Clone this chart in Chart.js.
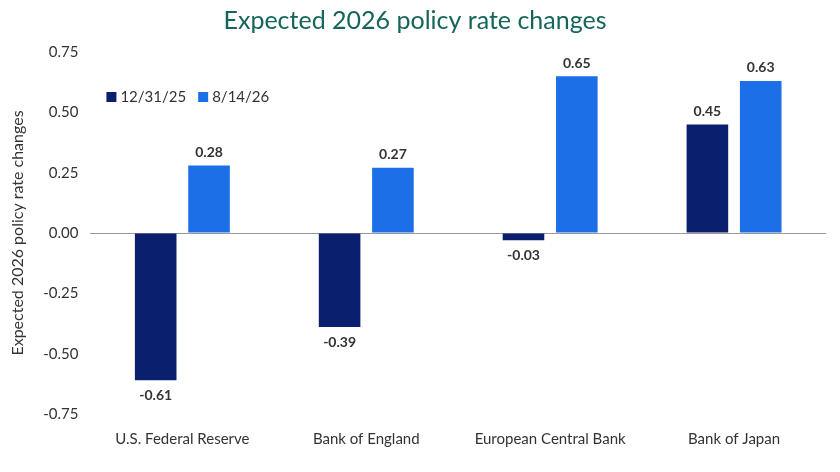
<!DOCTYPE html>
<html>
<head>
<meta charset="utf-8">
<script src="https://cdn.jsdelivr.net/npm/chart.js@4"></script>
<style>
  body { margin: 0; background: #fff; }
  #wrap { width: 840px; height: 472px; }
</style>
</head>
<body>
<div id="wrap"><canvas id="c"></canvas></div>
<script>
const categories = ["U.S. Federal Reserve", "Bank of England", "European Central Bank", "Bank of Japan"];
const seriesNames = ["12/31/25", "8/14/26"];
const dec2025 = [-0.61, -0.39, -0.03, 0.45];
const aug2026 = [0.28, 0.27, 0.65, 0.63];
const colors = ["#0a1f6e", "#1c6fe6"];

// подписи значений над/под столбцами
const valueLabels = {
  id: "valueLabels",
  afterDatasetsDraw(chart) {
    const ctx = chart.ctx;
    ctx.save();
    ctx.font = "bold 14px Lato";
    ctx.fillStyle = "#333";
    ctx.textAlign = "center";
    chart.data.datasets.forEach((ds, i) => {
      chart.getDatasetMeta(i).data.forEach((bar, j) => {
        const v = ds.data[j];
        if (v >= 0) {
          ctx.textBaseline = "bottom";
          ctx.fillText(v.toFixed(2), bar.x, bar.y - 6);
        } else {
          ctx.textBaseline = "top";
          ctx.fillText(v.toFixed(2), bar.x, bar.y + 8);
        }
      });
    });
    ctx.restore();
  }
};

// легенда внутри области графика
const insideLegend = {
  id: "insideLegend",
  afterDraw(chart) {
    const ctx = chart.ctx;
    const a = chart.chartArea;
    let x = a.left + 16;
    const y = a.top + 45;
    ctx.save();
    ctx.font = "15px Lato";
    ctx.textBaseline = "middle";
    seriesNames.forEach((name, i) => {
      ctx.fillStyle = colors[i];
      ctx.fillRect(x, y - 5, 10, 10);
      ctx.fillStyle = "#333";
      ctx.fillText(name, x + 14, y);
      x += 14 + ctx.measureText(name).width + 12;
    });
    ctx.restore();
  }
};

new Chart(document.getElementById("c"), {
  type: "bar",
  data: {
    labels: categories,
    datasets: [
      { label: seriesNames[0], data: dec2025, backgroundColor: colors[0] },
      { label: seriesNames[1], data: aug2026, backgroundColor: colors[1] }
    ]
  },
  options: {
    responsive: true,
    maintainAspectRatio: false,
    animation: false,
    layout: { padding: { left: 4, right: 14, top: 0, bottom: 16 } },
    datasets: { bar: { categoryPercentage: 0.58, barPercentage: 0.78 } },
    plugins: {
      legend: { display: false },
      tooltip: { enabled: false },
      title: {
        display: true,
        text: "Expected 2026 policy rate changes",
        color: "#15655a",
        font: { family: "Lato", size: 25, weight: "normal" },
        padding: { top: 6, bottom: 16 }
      }
    },
    scales: {
      x: {
        grid: { display: false },
        border: { display: false },
        ticks: { color: "#333", font: { family: "Lato", size: 15 }, padding: 8 }
      },
      y: {
        min: -0.75,
        max: 0.75,
        grid: {
          drawTicks: false,
          color: (c) => (c.tick && c.tick.value === 0 ? "#999" : "transparent")
        },
        border: { display: false },
        ticks: {
          stepSize: 0.25,
          color: "#333",
          font: { family: "Lato", size: 15 },
          padding: 12,
          callback: (v) => v.toFixed(2)
        },
        title: {
          display: true,
          text: "Expected 2026 policy rate changes",
          color: "#333",
          font: { family: "Lato", size: 16 }
        }
      }
    }
  },
  plugins: [valueLabels, insideLegend]
});
</script>
</body>
</html>
